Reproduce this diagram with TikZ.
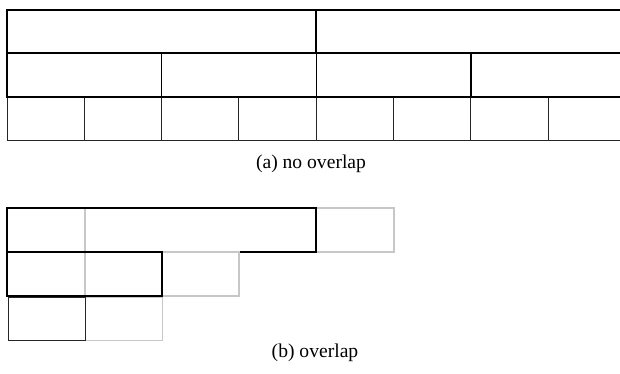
\documentclass[tikz,border=0pt]{standalone}
\usepackage{fontspec}
\setmainfont{Liberation Serif}
\begin{document}
\begin{tikzpicture}[x=1pt,y=-1pt,
  lvlA/.style={draw=black,line width=1.8pt},
  lvlB/.style={draw=black,line width=1.4pt},
  lvlC/.style={draw=black!85,line width=1pt},
  ghost/.style={draw=black!22,line width=1.3pt},
  ghostC/.style={draw=black!22,line width=1pt},
  captext/.style={font=\fontsize{19.6}{23}\selectfont,inner sep=0pt}]
\useasboundingbox (0,0) rectangle (620,374);
\begin{scope}
\clip (0,0) rectangle (620,374);
% (a) no overlap
\foreach \i in {0,...,7}{
  \draw[lvlC] ({7+77.3*\i},97) rectangle ({7+77.3*(\i+1)},141);
}
\foreach \i in {0,...,3}{
  \draw[lvlB] ({7+154.6*\i},53) rectangle ({7+154.6*(\i+1)},97);
}
\foreach \i in {0,1}{
  \draw[lvlA] ({7+309.2*\i},10) rectangle ({7+309.2*(\i+1)},53);
}
\node[captext] (capa) at (311,164) {(a) no overlap};
% (b) overlap
\draw[ghost] (85,208) rectangle (394,252);
\draw[lvlA] (7,208) rectangle (316,252);
\draw[ghost] (85,252) rectangle (239,296);
\draw[lvlB] (7,252) rectangle (162,296);
\draw[ghostC] (85,297) rectangle (162,340);
\draw[lvlC] (8,297) rectangle (85,340);
\node[captext] (capb) at (315,353) {(b) overlap};
\end{scope}
\end{tikzpicture}
\end{document}
